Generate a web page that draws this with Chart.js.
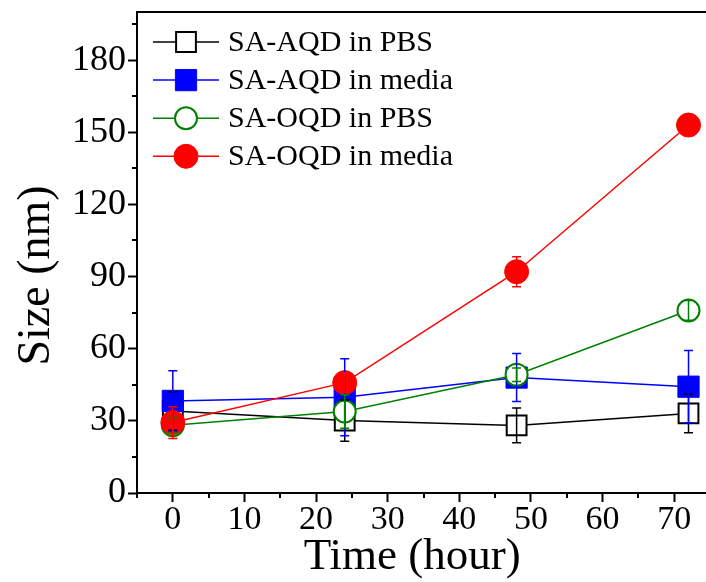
<!DOCTYPE html>
<html>
<head>
<meta charset="utf-8">
<script src="https://cdn.jsdelivr.net/npm/chart.js@4.4.1/dist/chart.umd.min.js"></script>
<style>
  html, body { margin: 0; padding: 0; background: #fff; overflow: hidden; }
  #wrap { width: 706px; height: 582px; }
</style>
</head>
<body>
<div id="wrap"><canvas id="sizeChart" width="706" height="582"></canvas></div>
<script>
// sampling times (hour)
const hours = [0, 24, 48, 72];

// particle size (nm) with error for each sample
const aqdPbs = [34.1, 30.1, 28.1, 33.1];
const aqdPbsErr = [8.0, 8.6, 7.2, 8.0];
const aqdMedia = [38.3, 39.8, 48.0, 44.2];
const aqdMediaErr = [12.5, 16.0, 10.0, 15.0];
const oqdPbs = [28.2, 33.9, 49.2, 75.9];
const oqdPbsErr = [3.0, 7.0, 2.8, 4.1];
const oqdMedia = [29.3, 45.9, 92.0, 153.0];
const oqdMediaErr = [6.6, 4.0, 6.2, 3.0];

const seriesLabels = ['SA-AQD in PBS', 'SA-AQD in media', 'SA-OQD in PBS', 'SA-OQD in media'];

// axis ticks
const xTicks = [0, 10, 20, 30, 40, 50, 60, 70];
const xMinorTicks = [-5, 5, 15, 25, 35, 45, 55, 65];
const yTicks = [0, 30, 60, 90, 120, 150, 180];
const yMinorTicks = [15, 45, 75, 105, 135, 165, 195];

const serif = "'Liberation Serif', 'Times New Roman', serif";

// plot box: the right edge of the frame runs just past the canvas
const plotBox = { left: 137, top: 12, right: 710, bottom: 493 };

function makeSeries(label, values, errors, color, style, filled, radius, order) {
    return {
        label: label,
        data: hours.map((h, i) => ({ x: h, y: values[i] })),
        errors: errors,
        borderColor: color,
        backgroundColor: filled ? color : '#ffffff',
        borderWidth: 1.5,
        pointStyle: style,
        pointRadius: radius,
        pointHoverRadius: radius,
        pointBorderWidth: filled ? 1 : 2,
        pointBorderColor: color,
        pointBackgroundColor: filled ? color : '#ffffff',
        tension: 0,
        order: order
    };
}

// pin the plot area and re-derive the scale pixel ranges from it
const fixedArea = {
    id: 'fixedArea',
    afterLayout(chart) {
        const a = chart.chartArea;
        Object.assign(a, plotBox);
        a.width = a.right - a.left;
        a.height = a.bottom - a.top;
        const xs = chart.scales.x, ys = chart.scales.y;
        xs.left = a.left; xs.right = a.right; xs.width = a.width;
        ys.top = a.top; ys.bottom = a.bottom; ys.height = a.height;
        xs.configure();
        ys.configure();
    }
};

// vertical error bars with caps, drawn over the markers
const errorBars = {
    id: 'errorBars',
    afterDatasetsDraw(chart) {
        const ctx = chart.ctx;
        const xs = chart.scales.x, ys = chart.scales.y;
        ctx.save();
        chart.data.datasets.forEach((ds) => {
            ctx.strokeStyle = ds.borderColor;
            ctx.lineWidth = 1.5;
            ds.data.forEach((p, i) => {
                const e = ds.errors[i];
                const px = xs.getPixelForValue(p.x);
                const top = ys.getPixelForValue(p.y + e);
                const bot = ys.getPixelForValue(p.y - e);
                ctx.beginPath();
                ctx.moveTo(px, top); ctx.lineTo(px, bot);
                ctx.moveTo(px - 4.5, top); ctx.lineTo(px + 4.5, top);
                ctx.moveTo(px - 4.5, bot); ctx.lineTo(px + 4.5, bot);
                ctx.stroke();
            });
        });
        ctx.restore();
    }
};

// closed frame plus the short minor ticks outside the axes
const frameAndMinor = {
    id: 'frameAndMinor',
    afterDraw(chart) {
        const ctx = chart.ctx;
        const a = chart.chartArea;
        const xs = chart.scales.x, ys = chart.scales.y;
        ctx.save();
        ctx.strokeStyle = '#000';
        ctx.lineWidth = 2;
        ctx.strokeRect(a.left, a.top, a.right - a.left, a.bottom - a.top);
        ctx.beginPath();
        xMinorTicks.forEach(v => {
            const px = Math.round(xs.getPixelForValue(v));
            ctx.moveTo(px, a.bottom); ctx.lineTo(px, a.bottom + 5);
        });
        yMinorTicks.forEach(v => {
            const py = Math.round(ys.getPixelForValue(v));
            ctx.moveTo(a.left, py); ctx.lineTo(a.left - 5, py);
        });
        ctx.stroke();
        ctx.restore();
    }
};

// legend in the upper left corner: line segment with the marker centred on it
const insideLegend = {
    id: 'insideLegend',
    afterDraw(chart) {
        const ctx = chart.ctx;
        const x0 = 153, x1 = 219, top = 42, step = 38.1;
        ctx.save();
        ctx.font = '30px ' + serif;
        ctx.textBaseline = 'middle';
        ctx.textAlign = 'left';
        seriesLabels.forEach((label, i) => {
            const ds = chart.data.datasets.find(d => d.label === label);
            const y = top + i * step;
            const cx = (x0 + x1) / 2;
            ctx.strokeStyle = ds.borderColor;
            ctx.lineWidth = 1.5;
            ctx.beginPath();
            ctx.moveTo(x0, y); ctx.lineTo(x1, y);
            ctx.stroke();
            ctx.fillStyle = ds.pointBackgroundColor;
            ctx.lineWidth = ds.pointBorderWidth;
            ctx.beginPath();
            if (ds.pointStyle === 'rect') {
                const s = ds.pointRadius * Math.SQRT1_2;
                ctx.rect(cx - s, y - s, 2 * s, 2 * s);
            } else {
                ctx.arc(cx, y, ds.pointRadius, 0, Math.PI * 2);
            }
            ctx.fill();
            ctx.stroke();
            ctx.fillStyle = '#000';
            ctx.fillText(label, 228, y + 1);
        });
        ctx.restore();
    }
};

new Chart(document.getElementById('sizeChart'), {
    type: 'line',
    data: {
        datasets: [
            makeSeries(seriesLabels[0], aqdPbs, aqdPbsErr, '#000000', 'rect', false, 14, 4),
            makeSeries(seriesLabels[1], aqdMedia, aqdMediaErr, '#0000ff', 'rect', true, 15, 3),
            makeSeries(seriesLabels[2], oqdPbs, oqdPbsErr, '#008000', 'circle', false, 11, 2),
            makeSeries(seriesLabels[3], oqdMedia, oqdMediaErr, '#ff0000', 'circle', true, 12, 1)
        ]
    },
    options: {
        responsive: false,
        animation: false,
        devicePixelRatio: 1,
        layout: { padding: { top: 12, right: 0, left: 0, bottom: 0 } },
        plugins: {
            legend: { display: false },
            tooltip: { enabled: false }
        },
        scales: {
            x: {
                type: 'linear',
                min: -5,
                max: 75,
                afterBuildTicks: (axis) => { axis.ticks = xTicks.map(v => ({ value: v })); },
                afterFit: (scale) => { scale.height = 89; },
                grid: { drawOnChartArea: false, drawTicks: true, tickLength: 9, tickWidth: 2, tickColor: '#000' },
                border: { display: true, color: '#000', width: 2 },
                ticks: { color: '#000', font: { family: serif, size: 34 }, padding: -2, maxRotation: 0, autoSkip: false },
                title: {
                    // trailing spaces nudge the centred title a little to the left
                    display: true, text: 'Time (hour)  ', color: '#000',
                    font: { family: serif, size: 45, lineHeight: 1 },
                    padding: { top: 0, bottom: 2 }
                }
            },
            y: {
                type: 'linear',
                min: 0,
                max: 200,
                afterBuildTicks: (axis) => { axis.ticks = yTicks.map(v => ({ value: v })); },
                afterFit: (scale) => { scale.width = 137; },
                grid: { drawOnChartArea: false, drawTicks: true, tickLength: 9, tickWidth: 2, tickColor: '#000' },
                border: { display: true, color: '#000', width: 2 },
                ticks: { color: '#000', font: { family: serif, size: 36 }, padding: 2, autoSkip: false },
                title: {
                    // trailing spaces push the rotated title down the axis
                    display: true, text: 'Size (nm)    ', color: '#000',
                    font: { family: serif, size: 46, lineHeight: 1 },
                    padding: { top: 14, bottom: 0 }
                }
            }
        }
    },
    plugins: [fixedArea, errorBars, frameAndMinor, insideLegend]
});
</script>
</body>
</html>
